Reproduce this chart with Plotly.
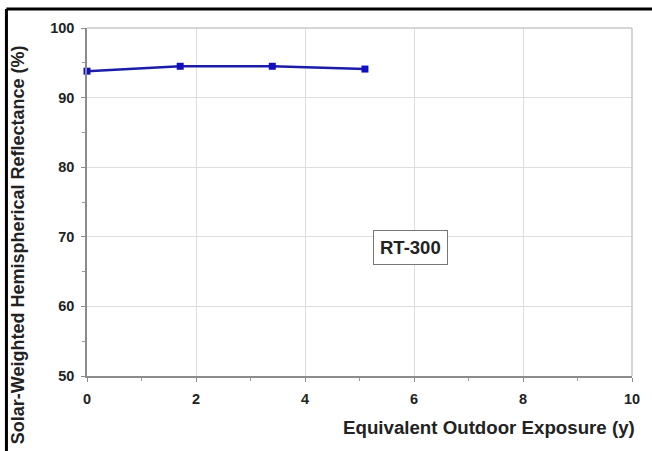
import plotly.graph_objects as go

exposure_years = [0, 1.71, 3.4, 5.1]
reflectance_pct = [93.8, 94.5, 94.5, 94.1]
x_ticks = [0, 2, 4, 6, 8, 10]
y_ticks = [50, 60, 70, 80, 90, 100]
label_text = "RT-300"

FONT = "Liberation Sans, Arial, sans-serif"
TXT = "#222222"

fig = go.Figure()
fig.add_trace(go.Scatter(
    x=exposure_years, y=reflectance_pct, mode="lines+markers",
    line=dict(color="#1c1ca8", width=2.5),
    marker=dict(symbol="square", size=7, color="#1010c0"),
    showlegend=False, cliponaxis=False,
))

axis_common = dict(
    showgrid=True, gridcolor="#dedede", gridwidth=1,
    showline=True, linecolor="#8c8c8c", linewidth=1.5, mirror=False,
    ticks="outside", ticklen=4, tickcolor="#8c8c8c",
    tickfont=dict(family=FONT, size=14.5, color=TXT, weight="bold"),
    zeroline=False,
)
fig.update_xaxes(range=[0, 10], tickvals=x_ticks, ticklabelstandoff=5,
                 minor=dict(dtick=1, tick0=0, ticks="outside", ticklen=3, tickcolor="#9a9a9a", showgrid=False),
                 **axis_common)
fig.update_yaxes(range=[50, 100], tickvals=y_ticks, ticklabelstandoff=4,
                 minor=dict(dtick=5, tick0=50, ticks="outside", ticklen=3, tickcolor="#9a9a9a", showgrid=False),
                 **axis_common)

shapes = [
    # plot frame (top/right)
    dict(type="line", xref="paper", yref="paper", x0=0, x1=1, y0=1, y1=1, line=dict(color="#c8c8c8", width=1.5)),
    dict(type="line", xref="paper", yref="paper", x0=1, x1=1, y0=0, y1=1, line=dict(color="#c8c8c8", width=1.5)),
    # outer black border
    dict(type="line", xref="paper", yref="paper", x0=-0.1478, x1=1.1, y0=1.0546, y1=1.0546, line=dict(color="black", width=3)),
    dict(type="line", xref="paper", yref="paper", x0=-0.1478, x1=-0.1478, y0=1.0546, y1=-0.3, line=dict(color="black", width=3)),
]

annotations = [
    dict(x=5.93, y=68.5, xref="x", yref="y", text="<b>" + label_text + "</b>", showarrow=False,
         font=dict(family=FONT, size=18.5, color=TXT), bgcolor="white",
         bordercolor="#777777", borderwidth=1, borderpad=6),
    dict(x=-0.1277, y=0.377, xref="paper", yref="paper", textangle=-90,
         text="<b>Solar-Weighted Hemispherical Reflectance (%)</b>", showarrow=False,
         font=dict(family=FONT, size=18, color=TXT), xanchor="center", yanchor="middle"),
    dict(x=1.009, y=-0.149, xref="paper", yref="paper", xanchor="right", yanchor="middle",
         text="<b>Equivalent Outdoor Exposure (y)</b>", showarrow=False,
         font=dict(family=FONT, size=18.7, color=TXT)),
]

fig.update_layout(
    width=652, height=451,
    margin=dict(l=87, r=17, t=28, b=75),
    paper_bgcolor="white", plot_bgcolor="white",
    shapes=shapes, annotations=annotations,
)

fig.write_html("out.html", config={"displayModeBar": False},
               post_script="document.body.style.margin='0';document.body.style.padding='0';document.body.style.overflow='hidden';")
